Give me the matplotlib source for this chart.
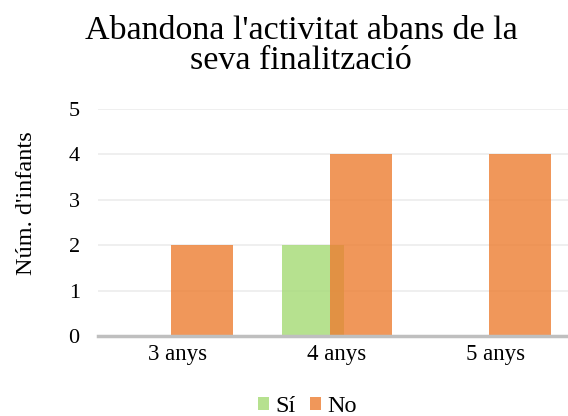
import matplotlib
matplotlib.use("Agg")
import matplotlib.pyplot as plt
import numpy as np

categories = ["3 anys", "4 anys", "5 anys"]
si_values = [0, 2, 0]
no_values = [2, 4, 4]
series_names = ["Sí", "No"]
yticks = [0, 1, 2, 3, 4, 5]

plt.rcParams['font.family'] = ['Liberation Serif', 'DejaVu Serif']

fig = plt.figure(figsize=(5.68, 4.16), dpi=100)
ax = fig.add_axes([0.1734, 0.1923, 0.8396, 0.5457])

x = np.arange(len(categories))
w = 0.39
off = 0.15
green = '#a9dc7c'
orange = '#ed7d31'
ax.bar(x - off, si_values, w, color=green, alpha=0.85, label=series_names[0], zorder=2)
ax.bar(x + off, no_values, w, color=orange, alpha=0.8, label=series_names[1], zorder=3)

ax.set_xlim(-0.5, 2.5)
ax.set_ylim(0, 5)
ax.set_yticks(yticks)
ax.set_xticks(x)
ax.set_xticklabels(categories, fontsize=16.5)
ax.tick_params(axis='y', labelsize=16, length=0, pad=13.5)
ax.tick_params(axis='x', length=0, pad=6)
ax.grid(axis='y', color='#ececec', linewidth=1.2, zorder=0)
for s in ['top', 'right', 'left']:
    ax.spines[s].set_visible(False)
ax.spines['bottom'].set_color('#bfbfbf')
ax.spines['bottom'].set_linewidth(2.5)
ax.spines['bottom'].set_zorder(4)
ax.set_axisbelow(True)

ax.set_ylabel("Núm. d'infants", fontsize=17.5)
ax.yaxis.set_label_coords(-0.128, 0.585)

fig.text(0.53, 0.835, "Abandona l'activitat abans de la\nseva finalització",
         ha='center', va='baseline', fontsize=24.5, linespacing=0.98)

fig.legend(loc='center', bbox_to_anchor=(0.541, 0.022), ncol=2, frameon=False,
           fontsize=17.5, handlelength=0.45, handleheight=0.45, handletextpad=0.25,
           columnspacing=0.6, borderpad=0)

fig.savefig("out.png", dpi=100)
